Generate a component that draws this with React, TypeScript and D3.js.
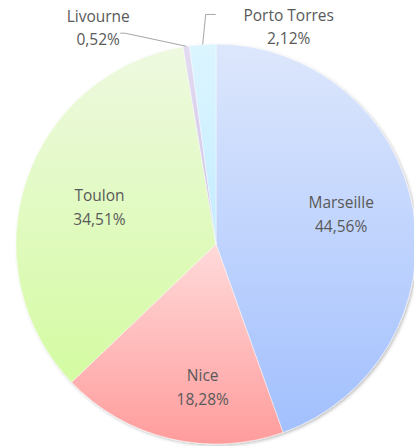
import { useEffect, useRef } from "react";
import * as d3 from "d3";

const ports = ["Marseille", "Nice", "Toulon", "Livourne", "Porto Torres"];
const shares = [44.56, 18.28, 34.51, 0.52, 2.12];
const topColors = ["#dde7fc", "#ffdada", "#eef9e0", "#e4dcf2", "#dcf5ff"];
const bottomColors = ["#a2c0fe", "#ff9c9c", "#d4fba2", "#cbbfe6", "#c4ecff"];

const fmt = (v: number) => v.toFixed(2).replace(".", ",") + "%";

export default function App() {
  const ref = useRef<SVGSVGElement>(null);

  useEffect(() => {
    if (!ref.current) return;
    const svg = d3.select(ref.current);
    svg.selectAll("*").remove();

    const cx = 216;
    const cy = 244;
    const r = 200;
    const fontSize = 15.5;

    const defs = svg.append("defs");
    const shadow = defs.append("filter").attr("id", "shadow")
      .attr("x", "-10%").attr("y", "-10%").attr("width", "120%").attr("height", "120%");
    shadow.append("feDropShadow")
      .attr("dx", 1.5).attr("dy", 1.5).attr("stdDeviation", 1.5)
      .attr("flood-color", "#000").attr("flood-opacity", 0.25);

    // one vertical gradient per slice, light on top
    ports.forEach((p, i) => {
      const g = defs.append("linearGradient")
        .attr("id", `grad${i}`)
        .attr("x1", 0).attr("y1", 0)
        .attr("x2", 0).attr("y2", 1);
      g.append("stop").attr("offset", "0%").attr("stop-color", topColors[i]);
      g.append("stop").attr("offset", "100%").attr("stop-color", bottomColors[i]);
    });

    const pie = d3.pie<number>().sort(null).value(d => d);
    const arcs = pie(shares);
    const arc = d3.arc<d3.PieArcDatum<number>>().innerRadius(0).outerRadius(r);

    const g = svg.append("g").attr("transform", `translate(${cx},${cy})`);

    g.append("g").attr("filter", "url(#shadow)")
      .selectAll("path")
      .data(arcs)
      .join("path")
      .attr("d", arc)
      .attr("fill", (d, i) => `url(#grad${i})`)
      .attr("stroke", "rgba(255,255,255,0.55)")
      .attr("stroke-width", 0.8);

    // inside labels
    const labelArc = d3.arc<d3.PieArcDatum<number>>().innerRadius(127).outerRadius(127);
    const nudge: Record<number, [number, number]> = { 0: [0, -10], 1: [16, 17], 2: [4, 1] };
    arcs.slice(0, 3).forEach((d, i) => {
      const [x, y] = labelArc.centroid(d);
      const [nx, ny] = nudge[i] || [0, 0];
      const t = g.append("text")
        .attr("text-anchor", "middle")
        .attr("font-family", "Open Sans, sans-serif")
        .attr("font-size", fontSize)
        .attr("fill", "#595959")
        .attr("transform", `translate(${x + nx},${y + ny})`);
      t.append("tspan").attr("x", 0).attr("y", -4).text(ports[i]);
      t.append("tspan").attr("x", 0).attr("y", 20).text(fmt(shares[i]));
    });

    // outside labels with leader lines
    const edge = d3.arc<d3.PieArcDatum<number>>().innerRadius(r).outerRadius(r);
    const line = d3.line();
    const [lx, ly] = edge.centroid(arcs[3]);
    g.append("path")
      .attr("d", line([[lx, ly], [lx - 61, ly - 13], [lx - 66, ly - 13]]))
      .attr("fill", "none").attr("stroke", "#a6a6a6").attr("stroke-width", 1);
    const [px, py] = edge.centroid(arcs[4]);
    g.append("path")
      .attr("d", line([[px, py], [px + 3, py - 30], [px + 13, py - 30]]))
      .attr("fill", "none").attr("stroke", "#a6a6a6").attr("stroke-width", 1);

    const outside = [
      { i: 3, x: lx - 88, y: ly - 24 },
      { i: 4, x: px + 86, y: py - 23 },
    ];
    outside.forEach(o => {
      const t = g.append("text")
        .attr("text-anchor", "middle")
        .attr("font-family", "Open Sans, sans-serif")
        .attr("font-size", fontSize)
        .attr("fill", "#595959")
        .attr("transform", `translate(${o.x},${o.y})`);
      t.append("tspan").attr("x", 0).attr("y", 0).text(ports[o.i]);
      t.append("tspan").attr("x", 0).attr("y", 23).text(fmt(shares[o.i]));
    });
  }, []);

  return (
    <svg
      ref={ref}
      width={414}
      height={446}
      style={{ position: "absolute", left: 0, top: 0, background: "#fff" }}
    />
  );
}
